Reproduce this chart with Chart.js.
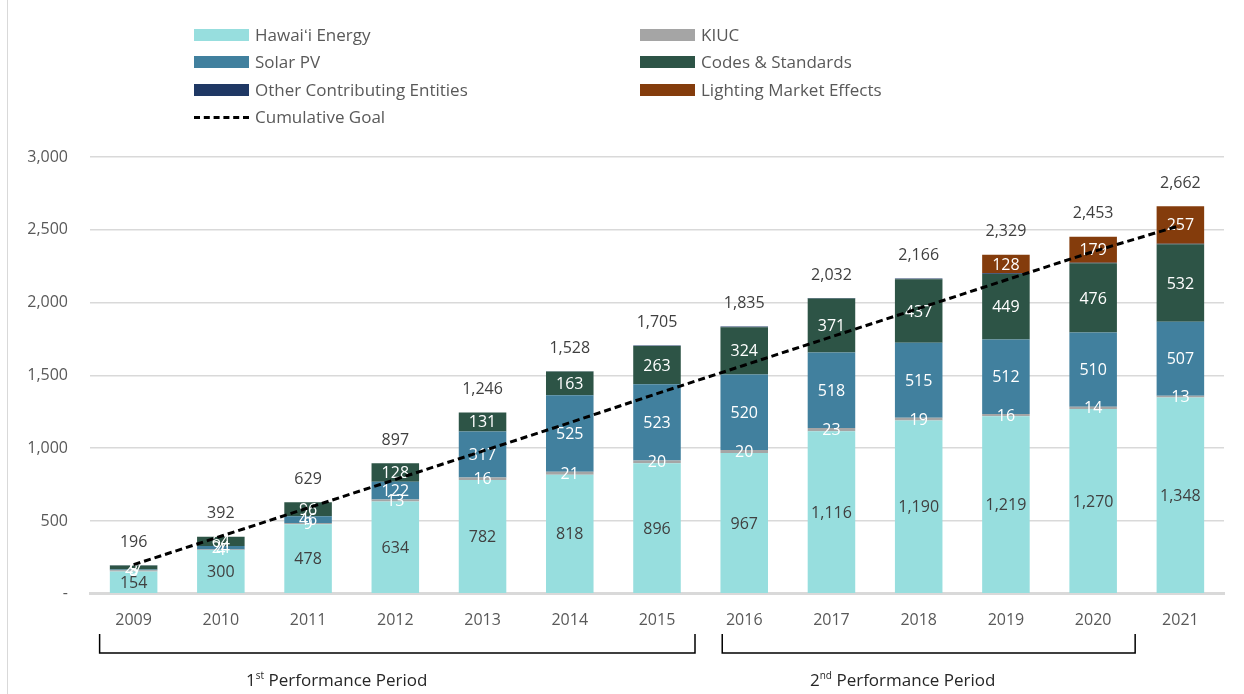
<!DOCTYPE html>
<html>
<head>
<meta charset="utf-8">
<script src="https://cdn.jsdelivr.net/npm/chart.js@4.4.1/dist/chart.umd.min.js"></script>
<style>
  body { margin: 0; background: #fff; }
  #wrap { position: relative; width: 1244px; height: 694px; font-family: 'Open Sans', sans-serif; }
  #wrap:before { content: ''; position: absolute; left: 7px; top: 0; bottom: 0; border-left: 1px solid #D9D9D9; }
  .leg { position: absolute; font-size: 17px; color: #595959; line-height: 20px; white-space: nowrap; }
  .sw { display: inline-block; width: 55px; height: 12px; vertical-align: middle; margin-right: 6px; position: relative; top: -1px; }
  .sw.dash { height: 0; border-top: 3px dashed #000; background: none !important; }
  .period { position: absolute; top: 668px; font-size: 17px; color: #262626; white-space: nowrap; }
  .period sup { font-size: 10px; }
</style>
</head>
<body>
<div id="wrap">
  <canvas id="chart" width="1244" height="694"></canvas>
  <div id="legend"></div>
  <div class="period" style="left:246px">1<sup>st</sup> Performance Period</div>
  <div class="period" style="left:810px">2<sup>nd</sup> Performance Period</div>
</div>
<script>
// Chart data
const years = ['2009', '2010', '2011', '2012', '2013', '2014', '2015', '2016', '2017', '2018', '2019', '2020', '2021'];
const hawaiiEnergy = [154, 300, 478, 634, 782, 818, 896, 967, 1116, 1190, 1219, 1270, 1348];
const kiuc = [8, 4, 9, 13, 16, 21, 20, 20, 23, 19, 16, 14, 13];
const solarPV = [5, 24, 46, 122, 317, 525, 523, 520, 518, 515, 512, 510, 507];
const codesStandards = [27, 64, 96, 128, 131, 163, 263, 324, 371, 437, 449, 476, 532];
const otherEntities = [2, 0, 0, 0, 0, 1, 3, 4, 4, 5, 5, 4, 5];
const lightingMarket = [0, 0, 0, 0, 0, 0, 0, 0, 0, 0, 128, 179, 257];
const cumulativeGoal = [200, 395, 590, 785, 980, 1175, 1375, 1570, 1765, 1960, 2155, 2350, 2530];

const barSeries = [
    { label: 'Hawai\u02BBi Energy', data: hawaiiEnergy, color: '#97DEDE', text: '#404040', showLabels: true },
    { label: 'KIUC', data: kiuc, color: '#A5A5A5', text: '#FFFFFF', showLabels: true },
    { label: 'Solar PV', data: solarPV, color: '#41809E', text: '#FFFFFF', showLabels: true },
    { label: 'Codes & Standards', data: codesStandards, color: '#2D5446', text: '#FFFFFF', showLabels: true },
    { label: 'Other Contributing Entities', data: otherEntities, color: '#1F3864', text: '#FFFFFF', showLabels: false },
    { label: 'Lighting Market Effects', data: lightingMarket, color: '#843C0C', text: '#FFFFFF', showLabels: true }
];

const fmt = v => v.toLocaleString('en-US');

// Legend (two columns, same order as the original)
const legendItems = [
    { label: barSeries[0].label, color: barSeries[0].color, x: 194, y: 25 },
    { label: barSeries[1].label, color: barSeries[1].color, x: 640, y: 25 },
    { label: barSeries[2].label, color: barSeries[2].color, x: 194, y: 52 },
    { label: barSeries[3].label, color: barSeries[3].color, x: 640, y: 52 },
    { label: barSeries[4].label, color: barSeries[4].color, x: 194, y: 80 },
    { label: barSeries[5].label, color: barSeries[5].color, x: 640, y: 80 },
    { label: 'Cumulative Goal', dash: true, x: 194, y: 107 }
];
const legendEl = document.getElementById('legend');
legendItems.forEach(item => {
    const div = document.createElement('div');
    div.className = 'leg';
    div.style.left = item.x + 'px';
    div.style.top = item.y + 'px';
    const sw = document.createElement('span');
    sw.className = item.dash ? 'sw dash' : 'sw';
    if (!item.dash) sw.style.background = item.color;
    div.appendChild(sw);
    div.appendChild(document.createTextNode(item.label));
    legendEl.appendChild(div);
});

// Segment labels, totals, and period brackets
const labelPlugin = {
    id: 'segmentLabels',
    beforeDatasetDraw(chart, args) {
        // draw labels just before the goal line so the dashes sit on top
        if (args.index !== barSeries.length) return;
        const ctx = chart.ctx;
        const y = chart.scales.y;
        ctx.save();
        ctx.font = '16px "Open Sans"';
        ctx.textAlign = 'center';
        ctx.textBaseline = 'middle';
        barSeries.forEach((s, di) => {
            if (!s.showLabels) return;
            const meta = chart.getDatasetMeta(di);
            meta.data.forEach((bar, i) => {
                if (!s.data[i]) return;
                ctx.fillStyle = s.text;
                ctx.fillText(fmt(s.data[i]), bar.x, (bar.y + bar.base) / 2 + 1);
            });
        });
        ctx.fillStyle = '#404040';
        years.forEach((yr, i) => {
            const total = barSeries.reduce((sum, s) => sum + s.data[i], 0);
            const x = chart.getDatasetMeta(0).data[i].x;
            ctx.fillText(fmt(total), x, y.getPixelForValue(total) - 23);
        });
        ctx.restore();
    },
    afterDraw(chart) {
        const ctx = chart.ctx;
        const x = chart.scales.x;
        const brackets = [[x.getPixelForValue(0) - 34, x.getPixelForValue(6) + 38],
                          [x.getPixelForValue(7) - 22, x.getPixelForValue(11) + 42]];
        ctx.save();
        ctx.strokeStyle = '#000';
        ctx.lineWidth = 1.5;
        brackets.forEach(([a, b]) => {
            ctx.beginPath();
            ctx.moveTo(a, 634);
            ctx.lineTo(a, 653);
            ctx.lineTo(b, 653);
            ctx.lineTo(b, 634);
            ctx.stroke();
        });
        ctx.restore();
    }
};

const datasets = barSeries.map(s => ({
    type: 'bar',
    label: s.label,
    data: s.data,
    backgroundColor: s.color,
    borderWidth: 0,
    barPercentage: 0.545,
    categoryPercentage: 1
}));
datasets.push({
    type: 'line',
    label: 'Cumulative Goal',
    data: cumulativeGoal,
    borderColor: '#000',
    borderWidth: 3,
    borderDash: [7, 4],
    pointRadius: 0,
    fill: false,
    tension: 0,
    stack: 'goal',
    order: -1
});

new Chart(document.getElementById('chart'), {
    data: { labels: years, datasets: datasets },
    options: {
        responsive: false,
        animation: false,
        layout: { padding: { top: 157, bottom: 55, left: 2, right: 20 } },
        plugins: { legend: { display: false }, tooltip: { enabled: false } },
        scales: {
            x: {
                stacked: true,
                grid: { display: false },
                border: { display: true, color: '#D9D9D9', width: 3 },
                ticks: { color: '#595959', font: { family: 'Open Sans', size: 16 }, padding: 9 }
            },
            y: {
                stacked: true,
                min: 0,
                max: 3000,
                afterFit(scale) { scale.width = 88; },
                grid: { color: '#D9D9D9', lineWidth: 1.5, drawTicks: false },
                border: { display: false },
                ticks: {
                    stepSize: 500,
                    padding: 22,
                    color: '#595959',
                    font: { family: 'Open Sans', size: 16 },
                    callback: v => v === 0 ? '-' : fmt(v)
                }
            }
        }
    },
    plugins: [labelPlugin]
});
</script>
</body>
</html>
